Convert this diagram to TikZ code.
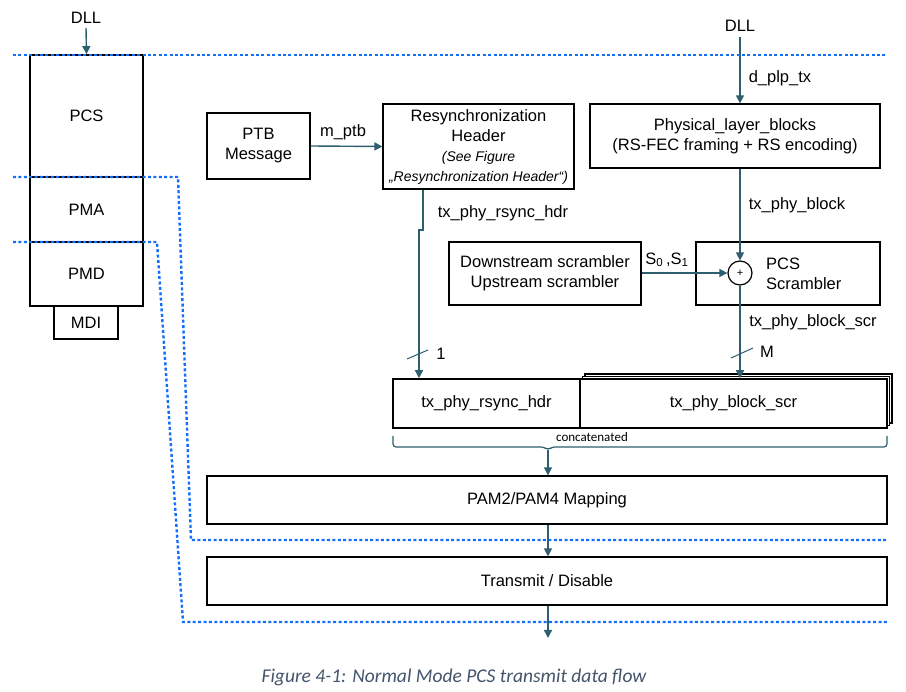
\documentclass[tikz,border=0pt]{standalone}
\usepackage{fontspec}
\setmainfont{Liberation Sans}
\newfontfamily\calfont{Carlito}
\usetikzlibrary{arrows.meta}
\definecolor{tealc}{RGB}{45,95,110}
\definecolor{dotblue}{RGB}{20,110,250}
\definecolor{capcol}{RGB}{68,84,106}
\newcommand{\mainf}{\fontsize{16.5}{20}\selectfont}
\newcommand{\smallit}{\fontsize{14}{20}\selectfont\itshape}
\begin{document}
\begin{tikzpicture}[x=1pt,y=-1pt,
  box/.style={draw=black,line width=1.2pt,fill=white,inner sep=0pt,align=center,font=\mainf},
  stackbox/.style={box,line width=1.8pt},
  lbl/.style={inner sep=0pt,font=\mainf,align=center},
  flow/.style={draw=tealc,line width=1.4pt,-{Triangle[length=8pt,width=8pt]}},
  dotline/.style={draw=dotblue,line width=2.4pt,dash pattern=on 3pt off 2.4pt}]
\useasboundingbox (0,0) rectangle (906,692);

% left stack
\node[stackbox,minimum width=113pt,minimum height=122pt] (pcs) at (86.5,116) {PCS};
\node[stackbox,minimum width=113pt,minimum height=65pt] (pma) at (86.5,209.5) {PMA};
\node[stackbox,minimum width=113pt,minimum height=64pt] (pmd) at (86.5,274) {PMD};
\node[stackbox,minimum width=64pt,minimum height=33pt] (mdi) at (86,322.5) {MDI};
\node[lbl] (dllL) at (86,18) {DLL};
\draw[flow] (dllL.south) ++(0,4) coordinate (dllLs) -- (pcs.north);

% top blocks
\node[box,minimum width=103pt,minimum height=66pt] (ptb) at (258.5,146) {PTB\\Message};
\node[box,minimum width=191pt,minimum height=85pt] (rs) at (478.5,146.5)
  {Resynchronization\\Header\\{\smallit (See Figure}\\{\smallit „Resynchronization Header“)}};
\node[box,minimum width=290pt,minimum height=64pt] (phys) at (735,136)
  {Physical\_layer\_blocks\\(RS-FEC framing + RS encoding)};
\node[lbl] (dllR) at (740,26) {DLL};

\node[box,minimum width=192pt,minimum height=63pt] (scrsrc) at (545,273.5)
  {Downstream scrambler\\Upstream scrambler};
\node[box,minimum width=184pt,minimum height=63pt] (scr) at (788,273.5) {};
\node[lbl,align=left,anchor=west] (scrtxt) at (766,273.5) {PCS\\Scrambler};
\node[draw=black,line width=1.2pt,circle,minimum size=24pt,inner sep=0pt,fill=white,font=\fontsize{11}{12}\selectfont] (xor) at (740,273) {+};

% concatenated blocks
\draw[black,line width=1.2pt,fill=white] (585,374) rectangle (892,423);
\draw[black,line width=1.2pt,fill=white] (582.5,376.5) rectangle (889.5,425.5);
\node[box,line width=1.6pt,minimum width=187pt,minimum height=49pt] (hdr) at (486.5,403.5) {tx\_phy\_rsync\_hdr};
\node[box,line width=1.6pt,minimum width=307pt,minimum height=49pt] (blk) at (733.5,403.5) {tx\_phy\_block\_scr};

% brace
\draw[draw=tealc,line width=1.2pt,rounded corners=3pt] (393,436) -- (393,447) -- (544,447) -- (548,450) -- (552,447) -- (887,447) -- (887,436);
\coordinate (brtip) at (548,450);
\node[inner sep=0pt,font=\calfont\fontsize{13}{14}\selectfont] (concat) at (592,437) {concatenated};

% lower blocks
\node[box,minimum width=680pt,minimum height=48pt] (pam) at (547,500) {PAM2/PAM4 Mapping};
\node[box,minimum width=680pt,minimum height=48pt] (txd) at (547,581) {Transmit / Disable};
\coordinate (outp) at (548,638);

% connectors
\draw[flow] (ptb.east) -- (rs.west);
\node[lbl] (mptb) at (343,132) {m\_ptb};
\draw[flow] (dllR.south) ++(0,5) coordinate (dllRs) -- (dllRs |- phys.north);
\node[lbl] (dplp) at (780,78) {d\_plp\_tx};
\draw[flow] (xor |- phys.south) -- (xor.north);
\node[lbl] (txpb) at (797,205) {tx\_phy\_block};
\draw[flow] (scrsrc.east |- xor) -- (xor.west);
\node[lbl] (s01) at (667,260) {S\textsubscript{0}\,,S\textsubscript{1}};
\draw[flow] (xor.south) -- (xor |- blk.north);
\node[lbl] (txpbs) at (813,322) {tx\_phy\_block\_scr};
\coordinate (rsj1) at (423,230);
\coordinate (rsj2) at (419,230);
\draw[flow] (rs.south -| rsj1) -- (rsj1) -- (rsj2) -- (rsj2 |- hdr.north);
\node[lbl] (txrh) at (503,213) {tx\_phy\_rsync\_hdr};
\draw[tealc,line width=1pt] (407,359) -- (428,350);
\node[lbl] (one) at (441,354) {1};
\draw[tealc,line width=1pt] (731,358) -- (753,348);
\node[lbl] (mm) at (767,352) {M};
\draw[flow] (brtip) -- (brtip |- pam.north);
\draw[flow] (pam.south -| brtip) -- (txd.north -| brtip);
\draw[flow] (txd.south -| brtip) -- (outp);

% dotted layer boundaries
\draw[dotline] (13,55) -- (887,55);
\draw[dotline] (13,177) -- (178,177) -- (191,540) -- (887,540);
\draw[dotline] (13,242) -- (157,242) -- (183,622) -- (887,622);

% caption
\node[inner sep=0pt,text=capcol,font=\calfont\itshape\fontsize{19.5}{22}\selectfont] (cap) at (454,677) {Figure 4-1: Normal Mode PCS transmit data flow};
\end{tikzpicture}
\end{document}
